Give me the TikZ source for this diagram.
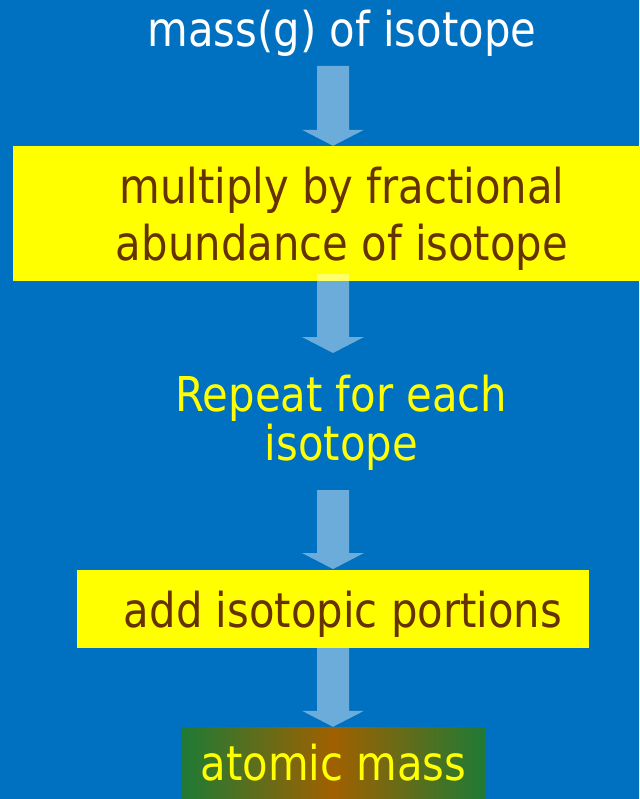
\documentclass[tikz,border=0pt]{standalone}
\usepackage{fontspec}
\setmainfont{DejaVu Sans}[FakeStretch=0.87]
\usetikzlibrary{calc}
\definecolor{bgblue}{HTML}{0070C0}
\definecolor{boxyellow}{HTML}{FFFF00}
\definecolor{txtbrown}{HTML}{663300}
\definecolor{gradgreen}{HTML}{1F7A35}
\definecolor{gradorange}{HTML}{A06000}
\newcommand\blockarrow[2]{%
  \fill[flowarrow] let \p1=(#1), \p2=(#2) in
    (\x1-16pt,\y1) -- (\x1+16pt,\y1) -- (\x1+16pt,\y2+16pt) -- (\x1+31pt,\y2+16pt)
    -- (\x1,\y2) -- (\x1-31pt,\y2+16pt) -- (\x1-16pt,\y2+16pt) -- cycle;}
\begin{document}
\begin{tikzpicture}[x=1pt,y=-1pt,
  bigtext/.style={font=\fontsize{48}{57}\selectfont, inner sep=0pt},
  ybox/.style={bigtext, fill=boxyellow, draw=none, text=txtbrown},
  flowarrow/.style={fill=white, fill opacity=0.42, draw=none}]
\fill[bgblue] (0,0) rectangle (639,799);
\useasboundingbox (0,0) rectangle (639,799);

\node[bigtext, text=white, anchor=base] (title) at (342,47) {mass(g) of isotope};
\node[ybox, minimum width=658pt, minimum height=135pt, align=center] (b1) at (342,213.5)
  {\rule{0pt}{47pt}multiply by fractional\\abundance of isotope};
\node[bigtext, text=boxyellow, align=center, font=\fontsize{48}{49}\selectfont] (rep) at (341.5,422.75)
  {Repeat for each\\isotope};
\node[bigtext, text=boxyellow, minimum width=303pt, minimum height=72pt,
  left color=gradgreen, right color=gradgreen, middle color=gradorange] (b3) at (333.5,763) {atomic mass};

\coordinate (a1s) at (333,66);
\coordinate (a2s) at (333,274);
\coordinate (a2e) at (333,353);
\coordinate (a3s) at (333,490);

\blockarrow{a1s}{b1.north -| a1s}
\blockarrow{a2s}{a2e}
\blockarrow{a3s}{a2e |- 569,569}
\blockarrow{a3s |- 640,640}{b3.north -| a3s}

\node[ybox, minimum width=512pt, minimum height=78pt] (b2) at (333,609)
  {\hspace*{20pt}\rule{0pt}{47pt}add isotopic portions};
\end{tikzpicture}
\end{document}
